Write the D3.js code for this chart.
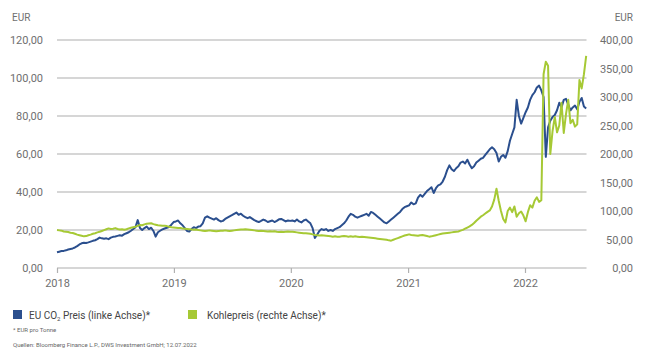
<!DOCTYPE html>
<html><head><meta charset="utf-8">
<script src="https://cdn.jsdelivr.net/npm/d3@7"></script>
<style>
html,body{margin:0;padding:0;background:#fff;}
svg text{font-family:Roboto,"Noto Sans",sans-serif;}
</style></head>
<body><svg id="c" width="650" height="357"></svg>
<script>
// ---- data (weekly, Mondays) ----
const co2_2018=[8.3,8.6,8.9,9.0,9.3, 9.7,10.0,10.3,10.8, 11.5,12.4,13.0,13.3, 13.2,13.5,13.9,14.3,14.6, 15.2,16.0,15.6,15.4, 15.6,15.2,16.0,16.4, 16.6,16.9,17.2,17.0,17.8, 18.3,18.8,19.6,20.5, 21.5,25.2,21.0,20.0, 21.0,21.8,20.5,21.2,19.5, 16.5,18.8,19.6,20.3, 20.8,21.2,21.6,22.8,24.2];
const co2_2019=[24.5,25.0,23.5,22.5, 21.0,19.5,19.2,20.5, 21.5,21.0,21.8,22.0, 23.5,26.5,27.2,26.5,26.0, 25.5,26.2,25.2,24.5, 24.8,25.8,26.5,27.2, 27.8,28.5,29.2,28.0,28.6, 27.5,26.8,26.2,26.8, 26.0,25.2,24.6,24.2,24.8, 25.5,25.0,24.2,24.6, 25.0,24.2,24.8,25.6, 25.8,25.2,24.5,25.0,24.8];
const co2_2020=[25.0,24.5,25.5,24.5, 24.0,25.0,25.5,24.5, 23.5,21.0,15.8,17.5,19.5, 20.5,20.0,20.5,19.5, 20.0,19.5,20.5,21.0, 21.5,22.5,23.5,25.0,27.0, 28.5,28.0,27.0,26.5, 27.0,27.5,28.0,28.5,27.5, 29.5,29.0,28.0,27.0, 26.0,25.0,24.0,23.5, 24.5,25.5,26.5,27.5,28.5, 29.5,31.0,32.0,32.5];
const co2_2021=[33.0,34.5,33.5,34.0, 37.0,38.5,37.5,39.0, 40.5,41.5,42.5,39.5,42.0, 43.5,44.0,45.5,48.0, 51.5,54.0,52.0,51.0,52.5, 53.5,55.5,56.0,55.0, 57.0,54.5,52.5,53.5, 55.5,56.5,57.5,58.0,59.5, 61.0,62.5,63.5,62.5, 60.5,56.0,58.5,59.5, 58.0,61.5,67.0,70.5,74.0, 88.5,80.0,76.0,79.0];
const co2_2022=[82.0,84.5,88.5,91.0,92.5, 95.0,96.0,93.5,90.0, 58.5,74.0,77.5,79.5, 80.5,83.0,87.0,84.5, 88.5,89.0,86.0,83.0,84.5, 85.5,83.5,87.5,89.5, 85.0,84.0];

const coal_2018=[66.5,66.0,65.5,64.0,63.5, 63.0,62.0,61.5,60.0, 58.5,57.5,56.5,55.5, 56.0,57.5,58.5,60.0,61.0, 62.5,63.5,65.0,66.5, 68.0,69.5,68.5,69.0, 70.0,68.5,67.5,68.0,67.0, 68.0,69.5,70.5,71.5, 72.5,74.0,75.5,75.0, 76.5,77.5,78.0,78.5,77.0, 76.0,75.0,74.5,74.0, 74.0,73.5,72.5,71.5,71.0];
const coal_2019=[70.5,70.0,70.0,69.5, 69.0,68.5,68.0,67.5, 67.0,67.5,66.5,66.0, 65.5,65.0,65.5,66.0,65.5, 65.0,64.5,65.0,65.5, 65.5,66.0,65.5,65.0, 65.5,66.0,66.5,67.0,67.5, 67.5,68.0,67.5,67.0, 66.5,66.0,65.5,65.0,65.5, 65.0,64.5,64.0,64.5, 64.0,64.5,63.5,63.0, 63.5,63.0,63.5,64.0,63.5];
const coal_2020=[63.5,63.0,62.5,62.0, 61.5,61.0,61.0,60.5, 60.0,59.0,58.0,57.5,57.0, 57.5,57.0,56.5,56.0, 55.5,55.0,55.5,55.0, 55.0,55.5,56.0,55.5,55.0, 55.5,55.0,55.5,55.0, 54.5,55.0,54.5,54.0,53.5, 53.0,52.5,52.0,51.5, 51.0,50.5,50.0,49.5, 48.5,48.0,49.5,51.0,52.5, 54.0,55.5,57.0,58.0];
const coal_2021=[59.0,58.0,57.5,57.0, 56.5,57.5,58.0,57.0, 56.0,55.0,55.5,56.5,57.5, 58.5,59.5,60.5,61.0, 61.5,62.0,62.5,63.0,63.5, 64.0,65.5,67.0,69.0, 71.0,73.0,75.5,79.0, 83.0,86.5,90.0,92.5,95.5, 98.5,101.0,108.0,120.0, 139.0,118.0,100.0,86.0, 80.0,100.0,106.0,98.0,108.0, 90.0,96.0,99.0,92.0];
const coal_2022=[82,98,110,106,118, 124,116,119,340, 362,355,200,240, 265,238,250,290, 237,270,295,254,260, 248,252,330,315, 340,372];

const leftTicks=[0,20,40,60,80,100,120];
const rightTicks=[0,50,100,150,200,250,300,350,400];
const years=[2018,2019,2020,2021,2022];
const fmt=v=>d3.format(".2f")(v).replace(".",",");

// ---- build series ----
const weeks=d3.timeMonday.range(new Date(2018,0,1), new Date(2022,6,12));
const co2=[].concat(co2_2018,co2_2019,co2_2020,co2_2021,co2_2022);
const coal=[].concat(coal_2018,coal_2019,coal_2020,coal_2021,coal_2022);
const n=Math.min(weeks.length,co2.length,coal.length);
const co2Data=d3.range(n).map(i=>({d:weeks[i],v:co2[i]}));
const coalData=d3.range(n).map(i=>({d:weeks[i],v:coal[i]}));

const svg=d3.select("#c");
const x=d3.scaleTime().domain([new Date(2018,0,1),new Date(2022,6,12)]).range([57,586.5]);
const yL=d3.scaleLinear().domain([0,120]).range([268,40]);
const yR=d3.scaleLinear().domain([0,400]).range([268,40]);
const txt="#6f6f6f";

// gridlines
svg.append("g").selectAll("line").data(leftTicks).join("line")
 .attr("x1",57).attr("x2",586.5).attr("y1",d=>yL(d)).attr("y2",d=>yL(d))
 .attr("stroke","#c8c8c8").attr("stroke-width",1.3);

// left axis labels
svg.append("g").selectAll("text").data(leftTicks).join("text")
 .attr("x",43).attr("y",d=>yL(d)+4).attr("text-anchor","end")
 .attr("font-size",11).attr("fill",txt).text(fmt);
// right axis labels
svg.append("g").selectAll("text").data(rightTicks).join("text")
 .attr("x",633).attr("y",d=>yR(d)+4).attr("text-anchor","end")
 .attr("font-size",11).attr("fill",txt).text(fmt);
svg.append("text").attr("x",12).attr("y",21).attr("font-size",10).attr("fill",txt).text("EUR");
svg.append("text").attr("x",633).attr("y",21).attr("text-anchor","end").attr("font-size",10).attr("fill",txt).text("EUR");

// x axis
const xa=svg.append("g").attr("transform","translate(0,268)")
 .call(d3.axisBottom(x).tickValues(years.map(y=>new Date(y,0,1))).tickFormat(d3.timeFormat("%Y")).tickSize(5).tickPadding(6));
xa.select(".domain").remove();
xa.selectAll(".tick line").attr("stroke","#b0b0b0").attr("stroke-width",1.2);
xa.selectAll(".tick text").attr("font-size",11).attr("fill",txt).attr("font-family","Roboto,sans-serif");

// lines
const blue="#2b4f8e", green="#a6c935";
svg.append("path").datum(co2Data).attr("fill","none").attr("stroke",blue).attr("stroke-width",2)
 .attr("stroke-linejoin","round").attr("d",d3.line().x(d=>x(d.d)).y(d=>yL(d.v)));
svg.append("path").datum(coalData).attr("fill","none").attr("stroke",green).attr("stroke-width",2)
 .attr("stroke-linejoin","round").attr("d",d3.line().x(d=>x(d.d)).y(d=>yR(d.v)));

// legend
const lg=svg.append("g");
lg.append("rect").attr("x",13).attr("y",310).attr("width",9).attr("height",9).attr("fill",blue);
const t1=lg.append("text").attr("x",29).attr("y",318.5).attr("font-size",10).attr("fill","#444");
t1.append("tspan").text("EU CO");
t1.append("tspan").attr("font-size",6).attr("dy",2).text("2");
t1.append("tspan").attr("dy",-2).text(" Preis (linke Achse)*");
lg.append("rect").attr("x",188).attr("y",310).attr("width",9).attr("height",9).attr("fill",green);
lg.append("text").attr("x",207).attr("y",318.5).attr("font-size",10).attr("fill","#444").text("Kohlepreis (rechte Achse)*");

svg.append("text").attr("x",13).attr("y",332).attr("font-size",6).attr("fill","#666").text("* EUR pro Tonne");
svg.append("text").attr("x",13).attr("y",347).attr("font-size",6).attr("fill","#666").text("Quellen: Bloomberg Finance L.P., DWS Investment GmbH; 12.07.2022");
</script></body></html>
